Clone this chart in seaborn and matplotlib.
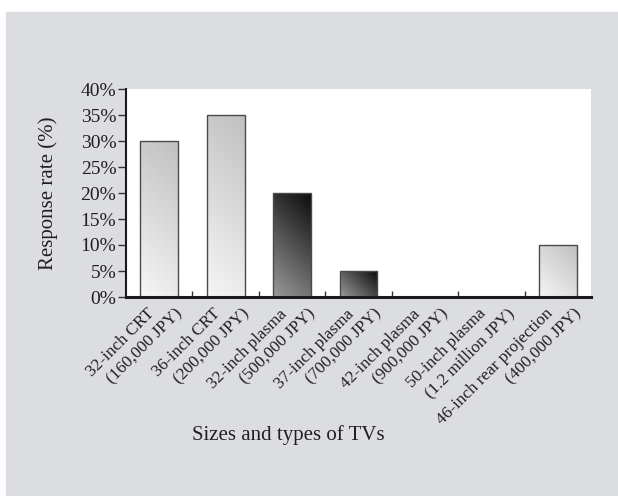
import numpy as np
import matplotlib
matplotlib.use("Agg")
import matplotlib.pyplot as plt
from matplotlib.patches import Rectangle
from matplotlib.colors import LinearSegmentedColormap
from matplotlib.ticker import PercentFormatter, FixedLocator
import seaborn as sns

# data
line1 = ["32-inch CRT", "36-inch CRT", "32-inch plasma", "37-inch plasma",
         "42-inch plasma", "50-inch plasma", "46-inch rear projection"]
line2 = ["(160,000 JPY)", "(200,000 JPY)", "(500,000 JPY)", "(700,000 JPY)",
         "(900,000 JPY)", "(1.2 million JPY)", "(400,000 JPY)"]
response = [30, 35, 20, 5, 0, 0, 10]
shade = ["light", "light", "dark", "dark", "dark", "dark", "light"]

sns.set_theme(style="ticks")
plt.rcParams["font.family"] = ["Liberation Serif", "DejaVu Serif"]
txt = "#231f20"

fig = plt.figure(figsize=(6.18, 4.96), dpi=100, facecolor="white")
# grey panel behind everything, with the thin white margin top/left
fig.patches.append(Rectangle((6 / 618, 0), 1, (496 - 12) / 496,
                             transform=fig.transFigure, color="#dcdde0", zorder=-10))
ax = fig.add_axes([126 / 618, 1 - 297 / 496, 465 / 618, 208 / 496])
ax.set_facecolor("white")

cats = [f"{a}\n{b}" for a, b in zip(line1, line2)]
sns.barplot(x=cats, y=response, ax=ax, color="white", edgecolor="#4a4a4a",
            linewidth=1.0, width=0.57, saturation=1)

ax.set_xlim(-0.5, len(cats) - 0.5)
ax.set_ylim(0, 40)

cmaps = {
    "light": LinearSegmentedColormap.from_list("lt", ["#f6f6f6", "#c0c0c0"]),
    "dark": LinearSegmentedColormap.from_list("dk", ["#9a9a9a", "#0c0c0c"]),
}
fig.canvas.draw()
for patch, kind in zip(ax.patches, shade):
    x0, y0 = patch.get_x(), patch.get_y()
    w, h = patch.get_width(), patch.get_height()
    if h <= 0:
        continue
    p0 = ax.transData.transform((x0, y0))
    p1 = ax.transData.transform((x0 + w, y0 + h))
    wp, hp = p1 - p0
    u, v = np.meshgrid(np.linspace(0, 1, 64), np.linspace(0, 1, 256))
    grad = (u * wp + v * hp) / (wp + hp)
    im = ax.imshow(grad, extent=[x0, x0 + w, y0, y0 + h], origin="lower",
                   cmap=cmaps[kind], aspect="auto", zorder=1.5, vmin=0, vmax=1)
    im.set_clip_path(patch)
    patch.set_facecolor("none")
    patch.set_zorder(2)
ax.set_xlim(-0.5, len(cats) - 0.5)
ax.set_ylim(0, 40)

# y axis
ax.yaxis.set_major_locator(FixedLocator(np.arange(0, 41, 5)))
ax.yaxis.set_major_formatter(PercentFormatter(decimals=0))
ax.tick_params(axis="y", direction="out", length=6, width=1, color="#333333",
               pad=1, labelsize=14, labelcolor=txt)
ax.set_ylabel("Response rate (%)", fontsize=15, color=txt, va="center")
ax.yaxis.set_label_coords(-0.168, 0.5)

# x axis: ticks between categories, labels drawn as two rotated lines
ax.set_xticks(range(len(cats)))
ax.set_xticklabels([])
ax.tick_params(axis="x", which="major", length=0)
ax.set_xticks(np.arange(0.5, len(cats) - 1, 1), minor=True)
ax.tick_params(axis="x", which="minor", direction="in", length=4, width=1,
               color="#333333")
for i, (a, b) in enumerate(zip(line1, line2)):
    ax.text(i + 0.316, -0.07, b, transform=ax.get_xaxis_transform(),
            rotation=45, rotation_mode="anchor", ha="right", va="center",
            fontsize=12.3, color=txt)
    ax.text(i - 0.11, -0.07, a, transform=ax.get_xaxis_transform(),
            rotation=45, rotation_mode="anchor", ha="right", va="center",
            fontsize=12.3, color=txt)
ax.set_xlabel("Sizes and types of TVs", fontsize=15, color=txt, va="center")
ax.xaxis.set_label_coords(0.348, -0.663)

for side in ["top", "right"]:
    ax.spines[side].set_visible(False)
ax.spines["left"].set_linewidth(1.5)
ax.spines["bottom"].set_linewidth(2.2)
ax.spines["left"].set_color("#1a1a1a")
ax.spines["bottom"].set_color("#1a1a1a")

fig.savefig("out.png", dpi=100, facecolor=fig.get_facecolor())
